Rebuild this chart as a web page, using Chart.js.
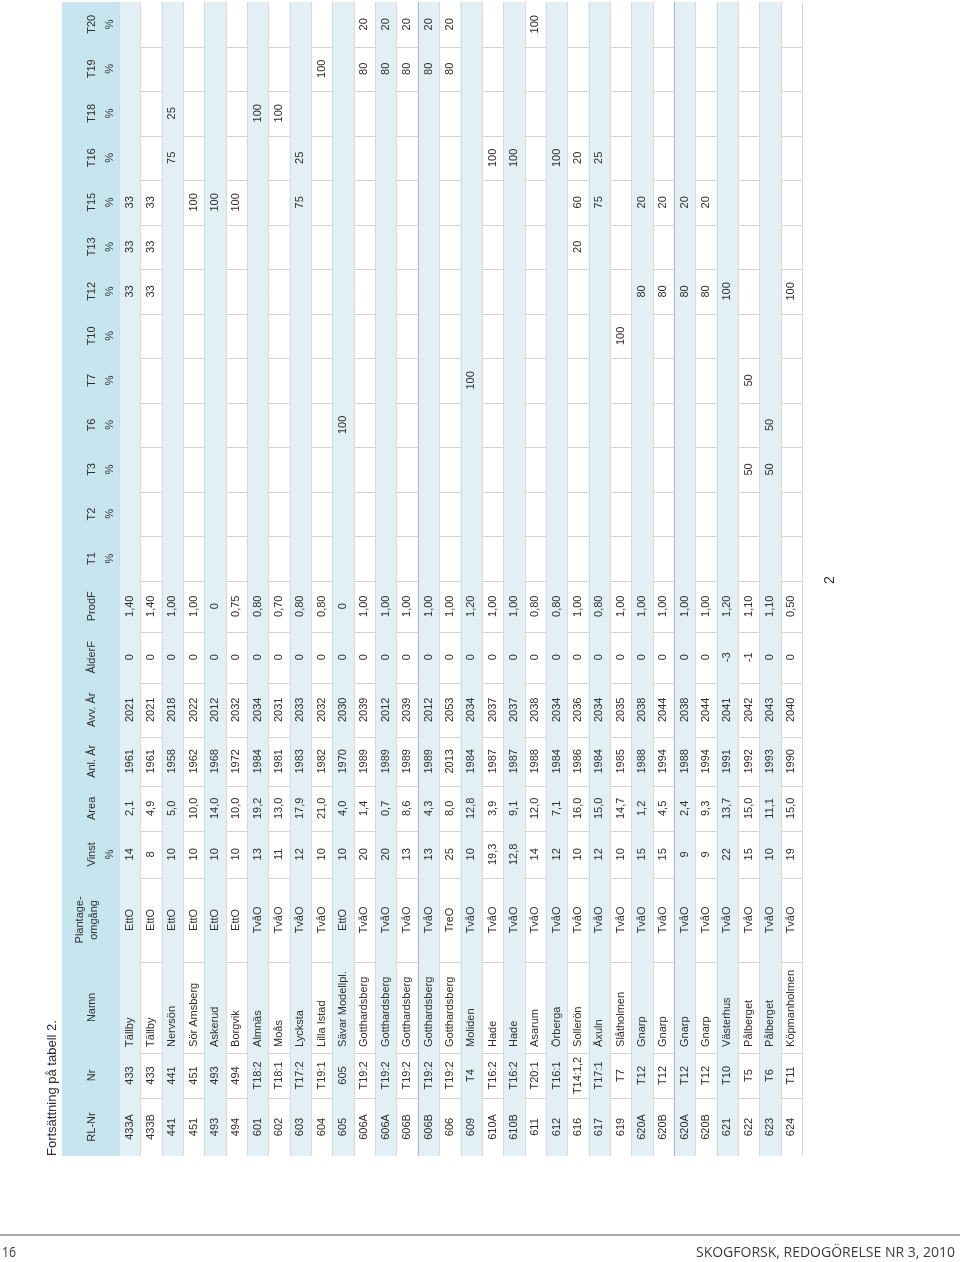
<!DOCTYPE html>
<html>
<head>
<meta charset="utf-8">
<script src="https://cdn.jsdelivr.net/npm/chart.js@4/dist/chart.umd.min.js"></script>
<style>
  html, body { margin: 0; padding: 0; background: #fff; }
  canvas { display: block; }
</style>
</head>
<body>
<canvas id="tabell-2" width="960" height="1262"></canvas>
<script>
// Fortsättning på tabell 2 (tabellen står på högkant)
const _ = null;

const rlNr = ['433A','433B','441','451','493','494','601','602','603','604','605','606A','606A','606B','606B','606',
  '609','610A','610B','611','612','616','617','619','620A','620B','620A','620B','621','622','623','624'];
const nr = ['433','433','441','451','493','494','T18:2','T18:1','T17:2','T19:1','605','T19:2','T19:2','T19:2','T19:2','T19:2',
  'T4','T16:2','T16:2','T20:1','T16:1','T14:1,2','T17:1','T7','T12','T12','T12','T12','T10','T5','T6','T11'];
const namn = ['Tällby','Tällby','Nervsön','Sör Amsberg','Askerud','Borgvik','Almnäs','Moås','Lycksta','Lilla Istad',
  'Sävar Modellpl.','Gotthardsberg','Gotthardsberg','Gotthardsberg','Gotthardsberg','Gotthardsberg',
  'Moliden','Hade','Hade','Asarum','Örberga','Sollerön','Äxuln','Slåtholmen','Gnarp','Gnarp','Gnarp','Gnarp',
  'Västerhus','Pålberget','Pålberget','Köpmanholmen'];
const omgang = ['EttO','EttO','EttO','EttO','EttO','EttO','TvåO','TvåO','TvåO','TvåO','EttO','TvåO','TvåO','TvåO','TvåO','TreO',
  'TvåO','TvåO','TvåO','TvåO','TvåO','TvåO','TvåO','TvåO','TvåO','TvåO','TvåO','TvåO','TvåO','TvåO','TvåO','TvåO'];
const vinst = [14,8,10,10,10,10,13,11,12,10,10,20,20,13,13,25,10,19.3,12.8,14,12,10,12,10,15,15,9,9,22,15,10,19];
const area = [2.1,4.9,5.0,10.0,14.0,10.0,19.2,13.0,17.9,21.0,4.0,1.4,0.7,8.6,4.3,8.0,
  12.8,3.9,9.1,12.0,7.1,16.0,15.0,14.7,1.2,4.5,2.4,9.3,13.7,15.0,11.1,15.0];
const anlAr = [1961,1961,1958,1962,1968,1972,1984,1981,1983,1982,1970,1989,1989,1989,1989,2013,
  1984,1987,1987,1988,1984,1986,1984,1985,1988,1994,1988,1994,1991,1992,1993,1990];
const avvAr = [2021,2021,2018,2022,2012,2032,2034,2031,2033,2032,2030,2039,2012,2039,2012,2053,
  2034,2037,2037,2038,2034,2036,2034,2035,2038,2044,2038,2044,2041,2042,2043,2040];
const alderF = [0,0,0,0,0,0,0,0,0,0,0,0,0,0,0,0,0,0,0,0,0,0,0,0,0,0,0,0,-3,-1,0,0];
const prodF = [1.40,1.40,1.00,1.00,0,0.75,0.80,0.70,0.80,0.80,0,1.00,1.00,1.00,1.00,1.00,
  1.20,1.00,1.00,0.80,0.80,1.00,0.80,1.00,1.00,1.00,1.00,1.00,1.20,1.10,1.10,0.50];

// andel per tillväxtområde, %
const t1  = [_,_,_,_,_,_,_,_,_,_,_,_,_,_,_,_,_,_,_,_,_,_,_,_,_,_,_,_,_,_,_,_];
const t2  = [_,_,_,_,_,_,_,_,_,_,_,_,_,_,_,_,_,_,_,_,_,_,_,_,_,_,_,_,_,_,_,_];
const t3  = [_,_,_,_,_,_,_,_,_,_,_,_,_,_,_,_,_,_,_,_,_,_,_,_,_,_,_,_,_,50,50,_];
const t6  = [_,_,_,_,_,_,_,_,_,_,100,_,_,_,_,_,_,_,_,_,_,_,_,_,_,_,_,_,_,_,50,_];
const t7  = [_,_,_,_,_,_,_,_,_,_,_,_,_,_,_,_,100,_,_,_,_,_,_,_,_,_,_,_,_,50,_,_];
const t10 = [_,_,_,_,_,_,_,_,_,_,_,_,_,_,_,_,_,_,_,_,_,_,_,100,_,_,_,_,_,_,_,_];
const t12 = [33,33,_,_,_,_,_,_,_,_,_,_,_,_,_,_,_,_,_,_,_,_,_,_,80,80,80,80,100,_,_,100];
const t13 = [33,33,_,_,_,_,_,_,_,_,_,_,_,_,_,_,_,_,_,_,_,20,_,_,_,_,_,_,_,_,_,_];
const t15 = [33,33,_,100,100,100,_,_,75,_,_,_,_,_,_,_,_,_,_,_,_,60,75,_,20,20,20,20,_,_,_,_];
const t16 = [_,_,75,_,_,_,_,_,25,_,_,_,_,_,_,_,_,100,100,_,100,20,25,_,_,_,_,_,_,_,_,_];
const t18 = [_,_,25,_,_,_,100,100,_,_,_,_,_,_,_,_,_,_,_,_,_,_,_,_,_,_,_,_,_,_,_,_];
const t19 = [_,_,_,_,_,_,_,_,_,100,_,80,80,80,80,80,_,_,_,_,_,_,_,_,_,_,_,_,_,_,_,_];
const t20 = [_,_,_,_,_,_,_,_,_,_,_,20,20,20,20,20,_,_,_,100,_,_,_,_,_,_,_,_,_,_,_,_];

const tKeys = ['T1','T2','T3','T6','T7','T10','T12','T13','T15','T16','T18','T19','T20'];
const tValues = [t1, t2, t3, t6, t7, t10, t12, t13, t15, t16, t18, t19, t20];

// kolumner: rubrik + text per rad
const sv = (v, d) => v.toFixed(d).replace('.', ',');
const columns = [
  { head: ['RL-Nr'], w: 58, text: i => rlNr[i] },
  { head: ['Nr'], w: 45, text: i => nr[i] },
  { head: ['Namn'], w: 91, text: i => namn[i], left: true },
  { head: ['Plantage-', 'omgång'], w: 84, text: i => omgang[i], tight: true },
  { head: ['Vinst', '%'], w: 47, text: i => Number.isInteger(vinst[i]) ? String(vinst[i]) : sv(vinst[i], 1) },
  { head: ['Area'], w: 45, text: i => sv(area[i], 1) },
  { head: ['Anl. År'], w: 49, text: i => String(anlAr[i]) },
  { head: ['Avv. År'], w: 54, text: i => String(avvAr[i]) },
  { head: ['ÅlderF'], w: 51, text: i => String(alderF[i]) },
  { head: ['ProdF'], w: 51, text: i => prodF[i] === 0 ? '0' : sv(prodF[i], 2) },
];
tKeys.forEach((k, n) => {
  columns.push({ head: [k, '%'], w: 44.5, text: i => tValues[n][i] === null ? '' : String(tValues[n][i]) });
});
let acc = 0;
columns.forEach(c => { c.start = acc; acc += c.w; c.end = acc; });
const tableLen = acc;

const headColor = '#c6e5ee';
const stripeColor = '#e2f0f5';
const textColor = '#2e2e2e';
const FONT = '"Liberation Sans", Arial, sans-serif';

function rotText(ctx, txt, x, y, align) {
  ctx.save();
  ctx.translate(x, y);
  ctx.rotate(-Math.PI / 2);
  ctx.textAlign = align || 'center';
  ctx.textBaseline = 'middle';
  ctx.fillText(txt, 0, 0);
  ctx.restore();
}

const tablePlugin = {
  id: 'tabell',
  beforeDatasetsDraw(chart) {
    const ctx = chart.ctx, a = chart.chartArea;
    ctx.save();
    ctx.fillStyle = headColor;
    ctx.fillRect(a.left - 57, a.top, 57, a.bottom - a.top);
    ctx.restore();
  },
  afterDatasetsDraw(chart) {
    const ctx = chart.ctx, a = chart.chartArea;
    const xs = chart.scales.x, ys = chart.scales.y;
    const rowW = xs.getPixelForValue(1) - xs.getPixelForValue(0);
    ctx.save();
    // kolumnlinjer i de vita raderna
    ctx.strokeStyle = '#cfd3d5';
    ctx.lineWidth = 1;
    for (let i = 1; i < rlNr.length; i += 2) {
      const x0 = xs.getPixelForValue(i) - rowW / 2, x1 = x0 + rowW;
      columns.forEach((c, n) => {
        if (n === 0) return;
        const y = Math.round(ys.getPixelForValue(c.start)) + 0.5;
        ctx.beginPath(); ctx.moveTo(x0, y); ctx.lineTo(x1, y); ctx.stroke();
      });
    }
    // radlinjer
    for (let i = 0; i <= rlNr.length; i++) {
      const x = Math.round(xs.getPixelForValue(i) - rowW / 2) + 0.5;
      ctx.strokeStyle = (i === 14 || i === 26) ? '#b3b9bc' : '#d6dadc';
      ctx.beginPath(); ctx.moveTo(x, a.top); ctx.lineTo(x, a.bottom); ctx.stroke();
    }
    // rubriker
    ctx.fillStyle = textColor;
    ctx.font = '11px ' + FONT;
    columns.forEach(c => {
      const y = ys.getPixelForValue((c.start + c.end) / 2);
      if (c.head.length === 1) {
        rotText(ctx, c.head[0], a.left - 27, y);
      } else if (c.tight) {
        rotText(ctx, c.head[0], a.left - 39, y);
        rotText(ctx, c.head[1], a.left - 25, y);
      } else {
        rotText(ctx, c.head[0], a.left - 27, y);
        rotText(ctx, c.head[1], a.left - 9, y);
      }
    });
    // celler
    rlNr.forEach((r, i) => {
      const x = xs.getPixelForValue(i);
      columns.forEach(c => {
        const t = c.text(i);
        if (!t) return;
        if (c.left) rotText(ctx, t, x, ys.getPixelForValue(c.start + 6), 'left');
        else rotText(ctx, t, x, ys.getPixelForValue((c.start + c.end) / 2));
      });
    });
    // tabellrubrik
    ctx.font = '13px ' + FONT;
    rotText(ctx, 'Fortsättning på tabell 2.', a.left - 67, a.bottom, 'left');
    // sidnummer i tabellsidan
    ctx.font = '14px ' + FONT;
    rotText(ctx, '2', 830, 580);
    ctx.restore();
  },
  afterDraw(chart) {
    const ctx = chart.ctx;
    ctx.save();
    ctx.strokeStyle = '#8f8f8f';
    ctx.lineWidth = 1.5;
    ctx.beginPath(); ctx.moveTo(0, 1235); ctx.lineTo(960, 1235); ctx.stroke();
    ctx.fillStyle = '#3a3a3a';
    ctx.font = '14px "Open Sans", sans-serif';
    ctx.textBaseline = 'middle';
    ctx.textAlign = 'left';
    ctx.fillText('16', 2, 1253, 14);
    ctx.textAlign = 'right';
    ctx.fillText('SKOGFORSK, REDOGÖRELSE NR 3, 2010', 955, 1253, 260);
    ctx.restore();
  }
};

// randiga rader som flytande staplar
const stripes = rlNr.map((r, i) => (i % 2 === 0 ? [0, tableLen] : null));

const config = {
  type: 'bar',
  data: {
    labels: rlNr,
    datasets: [{
      data: stripes,
      backgroundColor: stripeColor,
      borderWidth: 0,
      barPercentage: 1,
      categoryPercentage: 1
    }]
  },
  options: {
    responsive: false,
    animation: false,
    layout: { padding: { left: 119, right: 158, top: 2, bottom: 106 } },
    plugins: { legend: { display: false }, tooltip: { enabled: false } },
    scales: {
      x: { type: 'category', display: false, offset: true },
      y: { type: 'linear', display: false, min: 0, max: tableLen }
    }
  },
  plugins: [tablePlugin]
};

const myChart = new Chart(document.getElementById('tabell-2'), config);
</script>
</body>
</html>
